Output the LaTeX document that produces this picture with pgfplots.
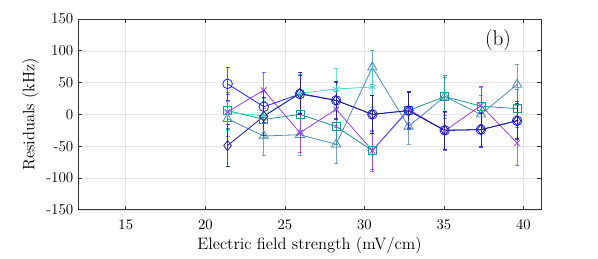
\documentclass[border=0pt]{standalone}
\usepackage{pgfplots}
\pgfplotsset{compat=1.18}
\usepackage{pgfplotstable}

\definecolor{cblue}{RGB}{35,35,240}
\definecolor{cnavy}{RGB}{30,30,140}
\definecolor{cpurple}{RGB}{160,60,240}
\definecolor{cteal}{RGB}{30,150,150}
\definecolor{ctri}{RGB}{80,140,190}
\definecolor{ccyan}{RGB}{64,224,208}

\pgfplotstableread{
x y e
21.4 48 26
23.675 12 25
25.95 32 30
28.225 22 28
30.5 0 30
32.775 6 28
35.05 -25 30
37.325 -24 28
39.6 -10 30
}\tblue
\pgfplotstableread{
x y e
21.4 -49 33
23.675 -3 30
25.95 33 33
28.225 22 30
30.5 0 30
32.775 6 30
35.05 -25 30
37.325 -24 26
39.6 -10 28
}\tnavy
\pgfplotstableread{
x y e
21.4 4 28
23.675 38 28
25.95 -29 30
28.225 8 28
30.5 -57 32
32.775 8 28
35.05 -26 30
37.325 14 30
39.6 -45 35
}\tpurple
\pgfplotstableread{
x y e
21.4 6 28
23.675 -8 28
25.95 0 30
28.225 -19 28
30.5 -57 30
32.775 6 28
35.05 28 34
37.325 13 30
39.6 9 30
}\tteal
\pgfplotstableread{
x y e
21.4 -7 28
23.675 -34 30
25.95 -32 32
28.225 -47 30
30.5 74 27
32.775 -19 28
35.05 28 30
37.325 0 30
39.6 47 32
}\ttri
\pgfplotstableread{
x y e
21.4 3 28
23.675 -2 28
25.95 33 30
28.225 40 32
30.5 43 32
}\tcyan

\begin{document}
\begin{tikzpicture}
\begin{axis}[
  scale only axis,
  width=347pt, height=143pt,
  xmin=12, xmax=41.1,
  ymin=-150, ymax=150,
  xtick={15,20,25,30,35,40},
  ytick={-150,-100,-50,0,50,100,150},
  yticklabels={-150,-100,-50,0,50,100,150},
  tick align=inside,
  tick pos=both,
  major tick length=3pt,
  grid=major,
  grid style={gray!20, line width=0.4pt},
  axis line style={black!80, line width=0.5pt},
  tick style={black!80, line width=0.5pt},
  ticklabel style={font=\fontsize{11.3}{13}\selectfont},
  xticklabel style={yshift=-4pt},
  label style={font=\fontsize{12.4}{14}\selectfont},
  xlabel={Electric field strength (mV/cm)},
  ylabel={Residuals (kHz)},
  xlabel style={yshift=1pt},
  ylabel style={yshift=-1pt},
  every axis plot/.append style={line width=0.6pt},
  error bars/y dir=both, error bars/y explicit,
  error bars/error mark options={rotate=90, mark size=1.5pt, line width=0.5pt},
  error bars/error bar style={line width=0.6pt, opacity=0.8},
]
\addplot[ctri, mark=triangle, mark size=4pt, mark options={solid}] table[x=x, y=y, y error=e] {\ttri};
\addplot[cteal, mark=square, mark size=3pt] table[x=x, y=y, y error=e] {\tteal};
\addplot[ccyan, mark=asterisk, mark size=3pt] table[x=x, y=y, y error=e] {\tcyan};
\addplot[cpurple, mark=x, mark size=3pt] table[x=x, y=y, y error=e] {\tpurple};
\addplot[cblue, mark=o, mark size=3.6pt] table[x=x, y=y, y error=e] {\tblue};
\addplot[cnavy, mark=diamond, mark size=3.8pt] table[x=x, y=y, y error=e] {\tnavy};
\node[font=\fontsize{16}{18}\selectfont] at (axis cs:38.4,116) {(b)};
\end{axis}
\path (current axis.south west) ++(-58.5pt,-34.5pt) coordinate (bbsw);
\path (current axis.north east) ++(42.75pt,14.25pt) coordinate (bbne);
\useasboundingbox (bbsw) rectangle (bbne);
\end{tikzpicture}
\end{document}
